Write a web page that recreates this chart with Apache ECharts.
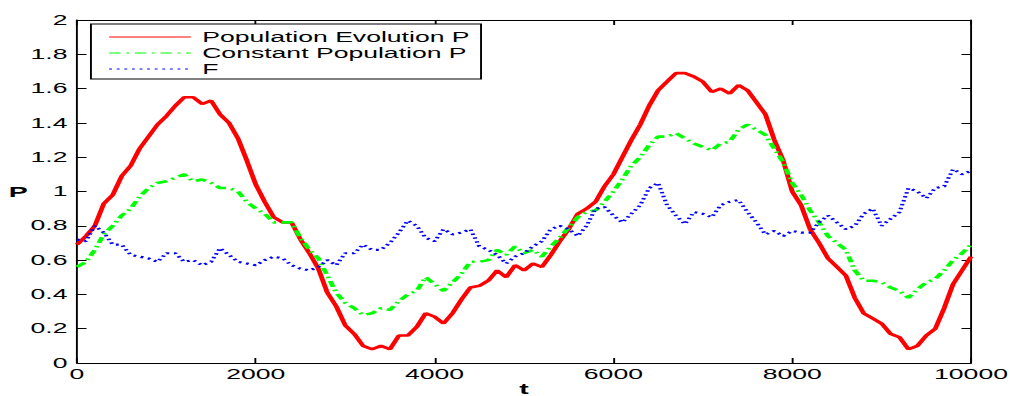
<!DOCTYPE html>
<html>
<head>
<meta charset="utf-8">
<script src="https://cdn.jsdelivr.net/npm/echarts@6/dist/echarts.min.js"></script>
<style>
  html, body { margin: 0; padding: 0; background: #fff; overflow: hidden; }
  #wrap { width: 1010px; height: 396px; overflow: hidden; }
  /* the figure is laid out narrow and stretched horizontally, like a wide exported plot */
  #chart { width: 532px; height: 396px; transform: scaleX(1.8985); transform-origin: 0 0; }
</style>
</head>
<body>
<div id="wrap"><div id="chart"></div></div>
<script>
// Sampled every 100 time steps, t = 0 .. 10000
const popEvolution = [
  0.69, 0.74, 0.80, 0.93, 0.98, 1.09, 1.15, 1.25, 1.32, 1.39,
  1.44, 1.50, 1.55, 1.55, 1.51, 1.53, 1.45, 1.40, 1.31, 1.18,
  1.04, 0.94, 0.85, 0.82, 0.82, 0.72, 0.64, 0.55, 0.41, 0.33,
  0.22, 0.17, 0.10, 0.08, 0.10, 0.08, 0.16, 0.16, 0.21, 0.29,
  0.27, 0.23, 0.29, 0.37, 0.44, 0.45, 0.48, 0.54, 0.50, 0.57,
  0.54, 0.58, 0.56, 0.63, 0.71, 0.78, 0.87, 0.90, 0.94, 1.03,
  1.10, 1.20, 1.30, 1.39, 1.50, 1.59, 1.64, 1.69, 1.69, 1.67,
  1.64, 1.58, 1.60, 1.57, 1.62, 1.59, 1.52, 1.45, 1.30, 1.18,
  1.00, 0.92, 0.78, 0.70, 0.61, 0.56, 0.51, 0.38, 0.29, 0.26,
  0.23, 0.17, 0.15, 0.08, 0.10, 0.16, 0.20, 0.32, 0.46, 0.54,
  0.62
];
const constPopulation = [
  0.56, 0.59, 0.66, 0.75, 0.80, 0.86, 0.90, 0.97, 1.02, 1.05,
  1.06, 1.08, 1.10, 1.06, 1.07, 1.05, 1.02, 1.02, 1.00, 0.94,
  0.90, 0.87, 0.82, 0.82, 0.82, 0.73, 0.66, 0.61, 0.51, 0.41,
  0.35, 0.32, 0.28, 0.29, 0.32, 0.31, 0.36, 0.40, 0.42, 0.50,
  0.46, 0.42, 0.47, 0.52, 0.59, 0.59, 0.60, 0.66, 0.63, 0.68,
  0.64, 0.66, 0.62, 0.68, 0.73, 0.79, 0.85, 0.88, 0.89, 0.94,
  1.00, 1.07, 1.15, 1.20, 1.27, 1.32, 1.32, 1.34, 1.31, 1.28,
  1.26, 1.24, 1.28, 1.29, 1.36, 1.39, 1.36, 1.33, 1.25, 1.17,
  1.05, 0.98, 0.89, 0.82, 0.74, 0.70, 0.66, 0.54, 0.48, 0.48,
  0.47, 0.44, 0.42, 0.38, 0.43, 0.47, 0.49, 0.54, 0.60, 0.64,
  0.69
];
const fValues = [
  0.72, 0.71, 0.80, 0.76, 0.69, 0.69, 0.63, 0.62, 0.61, 0.59,
  0.64, 0.64, 0.59, 0.60, 0.57, 0.59, 0.67, 0.63, 0.59, 0.58,
  0.57, 0.60, 0.62, 0.61, 0.57, 0.55, 0.54, 0.56, 0.60, 0.57,
  0.64, 0.64, 0.69, 0.66, 0.66, 0.70, 0.76, 0.83, 0.80, 0.73,
  0.71, 0.78, 0.75, 0.76, 0.78, 0.68, 0.66, 0.63, 0.58, 0.62,
  0.64, 0.68, 0.71, 0.78, 0.80, 0.78, 0.74, 0.80, 0.90, 0.91,
  0.86, 0.82, 0.87, 0.92, 1.02, 1.05, 0.92, 0.86, 0.81, 0.88,
  0.87, 0.85, 0.92, 0.94, 0.95, 0.88, 0.82, 0.75, 0.77, 0.74,
  0.77, 0.76, 0.76, 0.82, 0.86, 0.82, 0.78, 0.80, 0.87, 0.90,
  0.80, 0.84, 0.88, 1.02, 1.00, 0.96, 1.02, 1.03, 1.13, 1.10,
  1.12
];
const timeStep = 100;
const timeAxis = popEvolution.map((_, i) => i * timeStep);
const seriesNames = ['Population Evolution P', 'Constant Population P', 'F'];

const pairs = vals => vals.map((v, i) => [timeAxis[i], v]);

const FONT = 'Liberation Sans';
const black = '#000';

const baseAxis = {
  type: 'value',
  axisLine: { show: true, onZero: false, lineStyle: { color: black, width: 1 } },
  axisTick: { show: true, inside: true, length: 5, lineStyle: { color: black, width: 1 } },
  splitLine: { show: false }
};

const chart = echarts.init(document.getElementById('chart'), null, { renderer: 'svg' });

chart.setOption({
  animation: false,
  backgroundColor: '#fff',
  grid: { left: 40.56, right: 20.54, top: 20, bottom: 33, containLabel: false, outerBoundsMode: 'none' },
  legend: {
    data: seriesNames,
    orient: 'vertical',
    left: 47.9,
    top: 24,
    padding: [6, 6, 3, 9],
    itemWidth: 43,
    itemHeight: 14,
    itemGap: 2,
    borderColor: black,
    borderWidth: 1,
    backgroundColor: '#fff',
    textStyle: { color: black, fontFamily: FONT, fontSize: 14, padding: [0, 0, 0, 1] },
    lineStyle: { width: 1.2 },
    itemStyle: { opacity: 0, borderWidth: 0 }
  },
  xAxis: [
    Object.assign({}, baseAxis, {
      position: 'bottom', min: 0, max: 10000, interval: 2000,
      axisLabel: { color: black, fontFamily: FONT, fontSize: 14, margin: 4, formatter: v => String(v) },
      name: 't', nameLocation: 'middle', nameGap: 18, nameMoveOverlap: false,
      nameTextStyle: { color: black, fontFamily: FONT, fontSize: 15, fontWeight: 'bold' }
    }),
    Object.assign({}, baseAxis, {
      position: 'top', min: 0, max: 10000, interval: 2000,
      axisLabel: { show: false }
    })
  ],
  yAxis: [
    Object.assign({}, baseAxis, {
      position: 'left', min: 0, max: 2, interval: 0.2,
      axisLabel: { color: black, fontFamily: FONT, fontSize: 14, margin: 5 },
      name: 'P', nameLocation: 'middle', nameRotate: 0, nameGap: 26, nameMoveOverlap: false,
      nameTextStyle: { color: black, fontFamily: FONT, fontSize: 15, fontWeight: 'bold' }
    }),
    Object.assign({}, baseAxis, {
      position: 'right', min: 0, max: 2, interval: 0.2,
      axisLabel: { show: false }
    })
  ],
  series: [
    {
      name: seriesNames[0], type: 'line', data: pairs(popEvolution),
      xAxisIndex: 0, yAxisIndex: 0, symbol: 'none', showSymbol: false,
      color: '#ff0000',
      lineStyle: { color: '#ff0000', width: 2.6, type: 'solid' }
    },
    {
      name: seriesNames[1], type: 'line', data: pairs(constPopulation),
      xAxisIndex: 0, yAxisIndex: 0, symbol: 'none', showSymbol: false,
      color: '#00ff00',
      lineStyle: { color: '#00ff00', width: 2.6, type: [6, 3, 1.5, 3] }
    },
    {
      name: seriesNames[2], type: 'line', data: pairs(fValues),
      xAxisIndex: 0, yAxisIndex: 0, symbol: 'none', showSymbol: false,
      color: '#0000ff',
      lineStyle: { color: '#0000ff', width: 2.2, type: [1.5, 2.5] }
    }
  ]
});
</script>
</body>
</html>
